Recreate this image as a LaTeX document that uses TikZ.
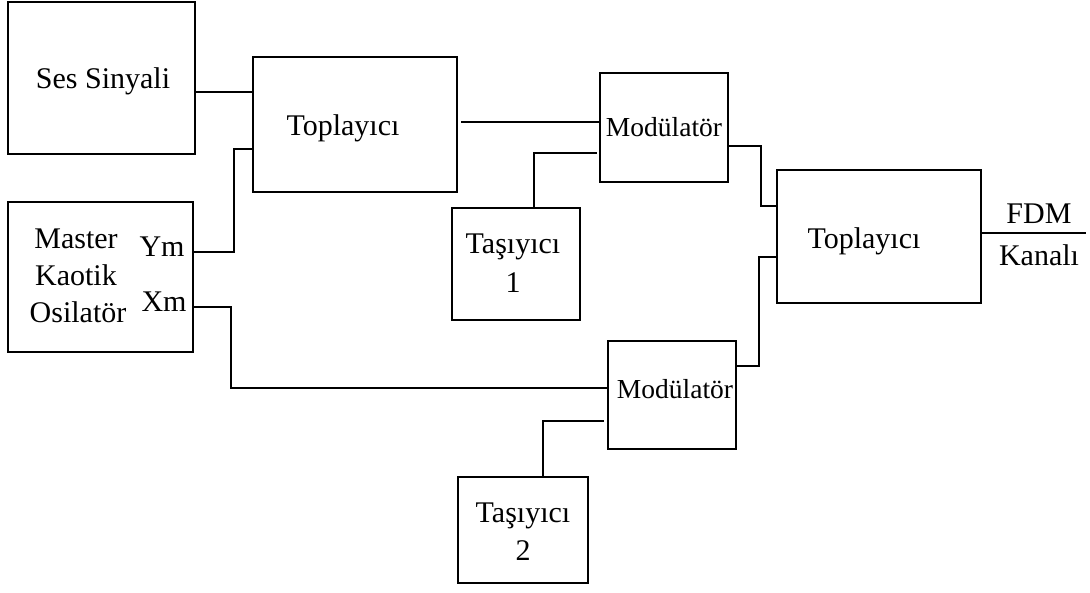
\documentclass[tikz,border=0pt]{standalone}
\usepackage{fontspec}
\setmainfont{Liberation Serif}
\begin{document}
\begin{tikzpicture}[x=1pt,y=-1pt,
  blk/.style={draw=black,line width=1.8pt,fill=none},
  wire/.style={draw=black,line width=1.8pt},
  lbl/.style={font=\fontsize{30}{37}\selectfont,inner sep=0pt,anchor=base},
  mlbl/.style={font=\fontsize{27.5}{30}\selectfont,inner sep=0pt,anchor=base}]
\useasboundingbox (0,0) rectangle (1090,592);
% boxes
\draw[blk] (8,2) rectangle (195,154);
\node[coordinate] (ses) at (195,78) {};
\draw[blk] (253,57) rectangle (457,192);
\node[coordinate] (top1w) at (253,124) {};
\node[coordinate] (top1e) at (457,124) {};
\draw[blk] (8,202) rectangle (193,352);
\node[coordinate] (master) at (193,277) {};
\draw[blk] (600,73) rectangle (728,182);
\node[coordinate] (mod1w) at (600,128) {};
\node[coordinate] (mod1e) at (728,128) {};
\draw[blk] (452,208) rectangle (580,320);
\node[coordinate] (tas1) at (516,208) {};
\draw[blk] (777,170) rectangle (981,303);
\node[coordinate] (top2w) at (777,236) {};
\node[coordinate] (top2e) at (981,236) {};
\draw[blk] (608,341) rectangle (736,449);
\node[coordinate] (mod2w) at (608,395) {};
\node[coordinate] (mod2e) at (736,395) {};
\draw[blk] (458,477) rectangle (588,583);
\node[coordinate] (tas2) at (523,477) {};
\coordinate (out) at (1086,233);
% labels
\node[lbl] (tses) at (103,88) {Ses Sinyali};
\node[lbl] (ttop1) at (343,135) {Toplayıcı};
\node[mlbl] (tmod1) at (664,136) {Modülatör};
\node[lbl] (tm1) at (76,248) {Master};
\node[lbl] (tm2) at (76,285) {Kaotik};
\node[lbl] (tm3) at (78,322) {Osilatör};
\node[lbl] (tym) at (162,256) {Ym};
\node[lbl] (txm) at (164,311) {Xm};
\node[lbl] (tt1a) at (513,253) {Taşıyıcı};
\node[lbl] (tt1b) at (513,292) {1};
\node[lbl] (ttop2) at (864,248) {Toplayıcı};
\node[mlbl] (tmod2) at (675,398) {Modülatör};
\node[lbl] (tt2a) at (523,522) {Taşıyıcı};
\node[lbl] (tt2b) at (523,560) {2};
\node[lbl] (tfdm) at (1039,223) {FDM};
\node[lbl] (tkan) at (1039,265) {Kanalı};
% connectors
\draw[wire] (ses |- 0,92) -- (top1w |- 0,92);
\draw[wire] (master |- 0,252) -- (234,252) -- (234,149) -- (top1w |- 0,149);
\draw[wire] (master |- 0,307) -- (231,307) -- (231,388) -- (mod2w |- 0,388);
\draw[wire] ([xshift=4pt]top1e |- 0,122) -- (mod1w |- 0,122);
\draw[wire] (tas1 -| 534,0) -- (534,153) -- ([xshift=-3pt]mod1w |- 0,153);
\draw[wire] (mod1e |- 0,146) -- (761,146) -- (761,206) -- (top2w |- 0,206);
\draw[wire] (mod2e |- 0,366) -- (759,366) -- (759,257) -- (top2w |- 0,257);
\draw[wire] (tas2 -| 543,0) -- (543,421) -- ([xshift=-4pt]mod2w |- 0,421);
\draw[wire] (top2e |- out) -- (out);
\end{tikzpicture}
\end{document}
